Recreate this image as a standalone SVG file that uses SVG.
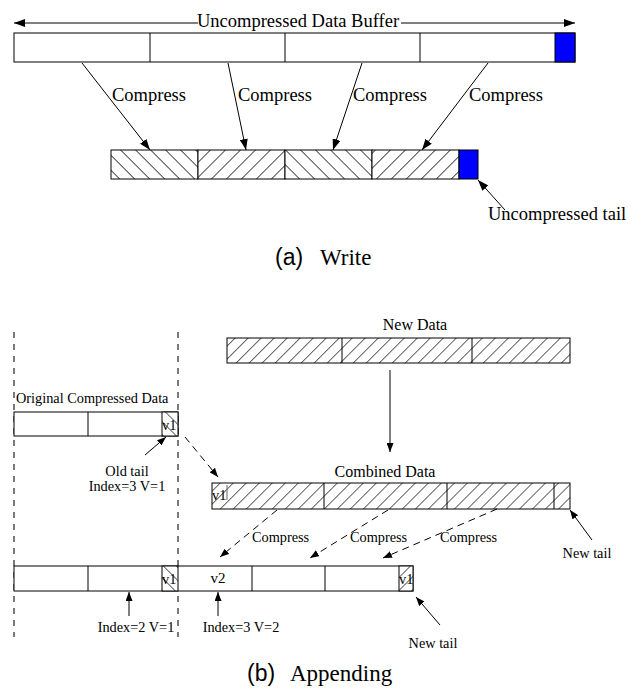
<svg xmlns="http://www.w3.org/2000/svg" width="642" height="691" viewBox="0 0 642 691">
<style>
.box{fill:#fff;stroke:#000;stroke-width:1}
.hbox{stroke:#000;stroke-width:1}
.div{stroke:#000;stroke-width:1}
.blue{fill:#0000ff;stroke:#000;stroke-width:1}
.t{font-family:"Liberation Serif","Times New Roman",serif;fill:#000}
.big{font-size:18.5px}
.sm{font-size:14.3px}
.md{font-size:16px}
.cap{font-size:23px}
.capS{font-family:"Liberation Sans",Arial,sans-serif;font-size:23px;fill:#000}
.ln{stroke:#000;stroke-width:1;fill:none}
.dash{stroke:#000;stroke-width:1;fill:none;stroke-dasharray:7 5}
.vdash{stroke:#333;stroke-width:1.3;fill:none;stroke-dasharray:6 6}
</style>
<defs>
<pattern id="hbL" width="10.6" height="10.6" patternUnits="userSpaceOnUse" patternTransform="rotate(-45)"><rect width="10.6" height="10.6" fill="#fff"/><line x1="0" y1="0" x2="0" y2="10.6" stroke="#111" stroke-width="1.5"/></pattern>
<pattern id="hfL" width="10.6" height="10.6" patternUnits="userSpaceOnUse" patternTransform="rotate(45)"><rect width="10.6" height="10.6" fill="#fff"/><line x1="0" y1="0" x2="0" y2="10.6" stroke="#111" stroke-width="1.5"/></pattern>
<pattern id="hbS" width="9.2" height="9.2" patternUnits="userSpaceOnUse" patternTransform="rotate(-45)"><rect width="9.2" height="9.2" fill="#fff"/><line x1="0" y1="0" x2="0" y2="9.2" stroke="#111" stroke-width="1.3"/></pattern>
<pattern id="hfS" width="9.2" height="9.2" patternUnits="userSpaceOnUse" patternTransform="rotate(45)"><rect width="9.2" height="9.2" fill="#fff"/><line x1="0" y1="0" x2="0" y2="9.2" stroke="#111" stroke-width="1.3"/></pattern>
<marker id="ah" markerWidth="11" markerHeight="8" refX="11" refY="4" orient="auto" markerUnits="userSpaceOnUse"><path d="M0,0 L11,4 L0,8 z" fill="#000"/></marker>
<marker id="as" markerWidth="9" markerHeight="7" refX="9" refY="3.5" orient="auto" markerUnits="userSpaceOnUse"><path d="M0,0 L9,3.5 L0,7 z" fill="#000"/></marker>
</defs>
<rect width="642" height="691" fill="#fff"/>

<!-- (a) Write -->
<g id="uncompressed-buffer">
<rect class="box" x="14" y="33" width="561" height="29"/>
<line class="div" x1="150" y1="33" x2="150" y2="62"/>
<line class="div" x1="285" y1="33" x2="285" y2="62"/>
<line class="div" x1="420" y1="33" x2="420" y2="62"/>
<rect class="blue" x="555" y="33" width="20" height="29"/>
<text class="t big" x="197" y="27">Uncompressed Data Buffer</text>
</g>
<g id="compressed-buffer">
<rect class="hbox" x="111" y="150" width="87" height="29" fill="url(#hbL)"/>
<rect class="hbox" x="198" y="150" width="87" height="29" fill="url(#hfL)"/>
<rect class="hbox" x="285" y="150" width="87" height="29" fill="url(#hbL)"/>
<rect class="hbox" x="372" y="150" width="87" height="29" fill="url(#hfL)"/>
<rect class="blue" x="459" y="150" width="19" height="29"/>
</g>
<g id="uncompressed-tail-label">
<text class="t big" x="488" y="220">Uncompressed tail</text>
</g>
<g id="caption-a">
<text class="capS" x="275" y="265">(a)</text>
<text class="t cap" x="320" y="265">Write</text>
</g>

<!-- (b) Appending -->
<g id="boundaries">
<line class="vdash" x1="14" y1="332" x2="14" y2="637"/>
<line class="vdash" x1="178" y1="332" x2="178" y2="637"/>
</g>
<g id="original-compressed-data">
<text class="t sm" x="16" y="403">Original Compressed Data</text>
<rect class="box" x="14" y="412" width="164" height="24"/>
<line class="div" x1="88" y1="412" x2="88" y2="436"/>
<rect class="hbox" x="162" y="412" width="16" height="24" fill="url(#hbS)"/>
<text class="t sm" x="162" y="430">v1</text>
</g>
<g id="old-tail-label">
<text class="t sm" x="127" y="476" text-anchor="middle">Old tail</text>
<text class="t sm" x="127" y="491" text-anchor="middle">Index=3 V=1</text>
</g>
<g id="new-data">
<text class="t md" x="415" y="330" text-anchor="middle">New Data</text>
<rect class="hbox" x="227" y="338" width="343" height="25" fill="url(#hfS)"/>
<line class="div" x1="342" y1="338" x2="342" y2="363"/>
<line class="div" x1="472" y1="338" x2="472" y2="363" stroke="#666"/>
</g>
<g id="combined-data">
<text class="t md" x="385" y="477" text-anchor="middle">Combined Data</text>
<rect class="hbox" x="212" y="483" width="358" height="26" fill="url(#hfS)"/>
<line class="div" x1="324" y1="483" x2="324" y2="509" stroke="#666"/>
<line class="div" x1="447" y1="483" x2="447" y2="509"/>
<line class="div" x1="554" y1="483" x2="554" y2="509"/>
<line x1="227" y1="485" x2="227" y2="500" stroke="#666" stroke-width="1"/>
<text class="t sm" x="212" y="500">v1</text>
</g>
<g id="new-tail-right-label">
<text class="t sm" x="587" y="558" text-anchor="middle">New tail</text>
</g>
<g id="appended-data">
<rect class="box" x="14" y="566" width="399" height="25"/>
<line class="div" x1="88" y1="566" x2="88" y2="591"/>
<line class="div" x1="252" y1="566" x2="252" y2="591"/>
<line class="div" x1="325" y1="566" x2="325" y2="591" stroke="#555"/>
<rect class="hbox" x="162" y="566" width="16" height="25" fill="url(#hbS)"/>
<text class="t sm" x="162" y="584">v1</text>
<rect class="hbox" x="399" y="566" width="14" height="25" fill="url(#hfS)" stroke="#555"/>
<text class="t sm" x="399" y="584">v1</text>
<text class="t" style="font-size:15px" x="218" y="583" text-anchor="middle">v2</text>
</g>
<g id="index-labels">
<text class="t sm" x="136" y="632" text-anchor="middle">Index=2 V=1</text>
<text class="t sm" x="241" y="632" text-anchor="middle">Index=3 V=2</text>
</g>
<g id="new-tail-bottom-label">
<text class="t sm" x="433" y="648" text-anchor="middle">New tail</text>
</g>
<g id="caption-b">
<text class="capS" x="247" y="681">(b)</text>
<text class="t cap" x="290" y="681">Appending</text>
</g>

<g id="connectors">
<line class="ln" x1="198" y1="23" x2="14" y2="23" marker-end="url(#ah)"/>
<line class="ln" x1="401" y1="23" x2="575" y2="23" marker-end="url(#ah)"/>
<line class="ln" x1="82" y1="63" x2="150" y2="150" marker-end="url(#ah)"/>
<line class="ln" x1="228" y1="63" x2="246" y2="150" marker-end="url(#ah)"/>
<line class="ln" x1="362" y1="63" x2="333" y2="150" marker-end="url(#ah)"/>
<line class="ln" x1="488" y1="63" x2="422" y2="150" marker-end="url(#ah)"/>
<line class="ln" x1="505" y1="210" x2="478" y2="180" marker-end="url(#ah)"/>
<text class="t big" x="112" y="101">Compress</text>
<text class="t big" x="238" y="101">Compress</text>
<text class="t big" x="353" y="101">Compress</text>
<text class="t big" x="469" y="101">Compress</text>

<line class="ln" x1="145" y1="455" x2="166" y2="437" marker-end="url(#as)"/>
<line class="dash" x1="185" y1="437" x2="218" y2="477" marker-end="url(#as)"/>
<line class="ln" x1="390" y1="370" x2="390" y2="452" marker-end="url(#as)"/>
<line class="ln" x1="592" y1="540" x2="570" y2="510" marker-end="url(#as)"/>
<line class="dash" x1="277" y1="510" x2="220" y2="557" marker-end="url(#as)"/>
<line class="dash" x1="388" y1="510" x2="310" y2="558" marker-end="url(#as)"/>
<line class="dash" x1="497" y1="509" x2="383" y2="558" marker-end="url(#as)"/>
<text class="t sm" x="252" y="542">Compress</text>
<text class="t sm" x="350" y="542">Compress</text>
<text class="t sm" x="440" y="542">Compress</text>
<line class="ln" x1="129" y1="616" x2="129" y2="592" marker-end="url(#as)"/>
<line class="ln" x1="218" y1="616" x2="218" y2="592" marker-end="url(#as)"/>
<line class="ln" x1="440" y1="625" x2="416" y2="597" marker-end="url(#as)"/>
</g>
</svg>
